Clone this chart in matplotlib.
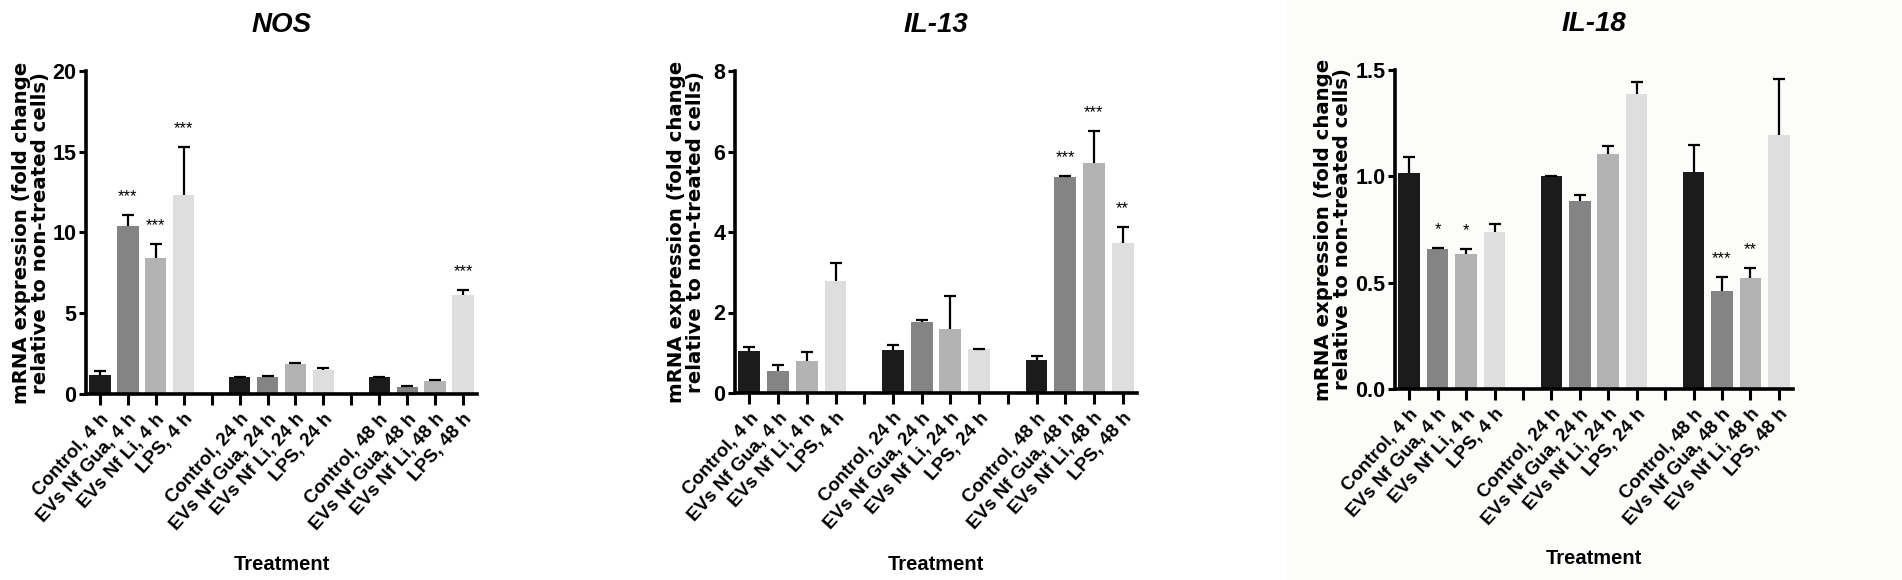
import numpy as np
import matplotlib
matplotlib.use("Agg")
import matplotlib.pyplot as plt
from matplotlib.patches import Rectangle

# ---------------- data ----------------
categories = ["Control, 4 h", "EVs Nf Gua, 4 h", "EVs Nf Li, 4 h", "LPS, 4 h",
              "Control, 24 h", "EVs Nf Gua, 24 h", "EVs Nf Li, 24 h", "LPS, 24 h",
              "Control, 48 h", "EVs Nf Gua, 48 h", "EVs Nf Li, 48 h", "LPS, 48 h"]
slots = [0, 1, 2, 3, 5, 6, 7, 8, 10, 11, 12, 13]
bar_colors = ["#1b1b1b", "#848484", "#b3b3b3", "#dedede"] * 3

nos_vals = [1.2, 10.4, 8.4, 12.3, 1.05, 1.05, 1.85, 1.5, 1.05, 0.42, 0.8, 6.15]
nos_err = [0.25, 0.7, 0.9, 3.0, 0.02, 0.08, 0.06, 0.1, 0.02, 0.05, 0.05, 0.28]
nos_sig = ["", "***", "***", "***", "", "", "", "", "", "", "", "***"]

il13_vals = [1.05, 0.55, 0.8, 2.78, 1.06, 1.77, 1.59, 1.1, 0.83, 5.36, 5.71, 3.72]
il13_err = [0.1, 0.15, 0.23, 0.46, 0.13, 0.04, 0.82, 0.0, 0.1, 0.04, 0.81, 0.41]
il13_sig = ["", "", "", "", "", "", "", "", "", "***", "***", "**"]

il18_vals = [1.015, 0.66, 0.636, 0.737, 1.0, 0.886, 1.104, 1.389, 1.022, 0.463, 0.52, 1.193]
il18_err = [0.078, 0.004, 0.024, 0.04, 0.0, 0.027, 0.04, 0.056, 0.127, 0.065, 0.05, 0.265]
il18_sig = ["", "*", "*", "", "", "", "", "", "", "***", "**", ""]

titles = ["NOS", "IL-13", "IL-18"]
y_limits = [(0, 20), (0, 8), (0, 1.5)]
y_ticks = [[0, 5, 10, 15, 20], [0, 2, 4, 6, 8], [0.0, 0.5, 1.0, 1.5]]
y_ticklabels = [["0", "5", "10", "15", "20"], ["0", "2", "4", "6", "8"],
                ["0.0", "0.5", "1.0", "1.5"]]
ylabel_text = "mRNA expression (fold change\nrelative to non-treated cells)"
xlabel_text = "Treatment"

# ---------------- figure ----------------
W, H = 1902, 580
fig = plt.figure(figsize=(W / 100, H / 100), dpi=100)
fig.patch.set_facecolor("white")
fig.patches.append(Rectangle((1287 / W, 0), 1 - 1287 / W, 1, transform=fig.transFigure,
                             facecolor="#fcfcfa", edgecolor="none", zorder=-5))

narrow = ["Liberation Sans Narrow", "Liberation Sans", "DejaVu Sans"]
sans = ["Liberation Sans", "DejaVu Sans"]

# axes boxes in pixels: left, right, top, bottom
boxes = [(86, 477, 71, 394), (735, 1137, 71, 393), (1395, 1793, 70, 389)]
ylabel_x = [-0.092, -0.075, -0.108]
xlabel_y = [565, 565, 559]
panels = [(nos_vals, nos_err, nos_sig), (il13_vals, il13_err, il13_sig),
          (il18_vals, il18_err, il18_sig)]

all_slots = list(range(14))
slot_labels = []
for s in all_slots:
    slot_labels.append(categories[slots.index(s)] if s in slots else "")

for i, (vals, errs, sig) in enumerate(panels):
    l, r, t, b = boxes[i]
    ax = fig.add_axes([l / W, 1 - b / H, (r - l) / W, (b - t) / H])
    ax.set_facecolor("none")
    ax.bar(slots, vals, width=0.76, color=bar_colors, edgecolor="none", zorder=2)
    vals_a = np.array(vals)
    errs_a = np.array(errs)
    eb = ax.errorbar(slots, vals_a, yerr=[np.zeros_like(errs_a), errs_a], fmt="none",
                     ecolor="black", elinewidth=1.6, capsize=4.5, capthick=1.6, zorder=3)
    for cap in eb[1]:
        if np.allclose(cap.get_ydata(), vals_a):
            cap.set_visible(False)
    for xs, v, e, s in zip(slots, vals, errs, sig):
        if s:
            ax.annotate(s, (xs, v + e), xytext=(0, 10), textcoords="offset points",
                        ha="center", va="baseline", fontsize=12, family=sans)

    ax.set_xlim(-0.5, 13.5)
    ax.set_ylim(*y_limits[i])
    ax.set_yticks(y_ticks[i])
    ax.set_yticklabels(y_ticklabels[i], fontsize=15.5, fontweight="bold", family=narrow)
    ax.set_xticks(all_slots)
    ax.set_xticklabels(slot_labels, rotation=48, ha="right", rotation_mode="anchor",
                       fontsize=13.5, fontweight="bold", family=sans)
    for sp in ["top", "right"]:
        ax.spines[sp].set_visible(False)
    for sp in ["left", "bottom"]:
        ax.spines[sp].set_linewidth(2.6)
        ax.spines[sp].set_zorder(4)
    ax.tick_params(axis="x", length=8, width=2.2, pad=4)
    ax.tick_params(axis="y", length=5, width=2.2, pad=2)

    ax.set_ylabel(ylabel_text, fontsize=14.2, fontweight="bold", family="DejaVu Sans",
                  linespacing=1.0)
    ax.yaxis.set_label_coords(ylabel_x[i], 0.5)
    ax.set_title(titles[i], fontsize=20, fontweight="bold", style="italic",
                 family=narrow, pad=28)
    ax.set_xlabel(xlabel_text, fontsize=14.5, fontweight="bold", family=narrow)
    ax.xaxis.label.set_verticalalignment("center")
    ax.xaxis.set_label_coords(0.5, -(xlabel_y[i] - b) / (b - t))

fig.savefig("out.png", dpi=100)
